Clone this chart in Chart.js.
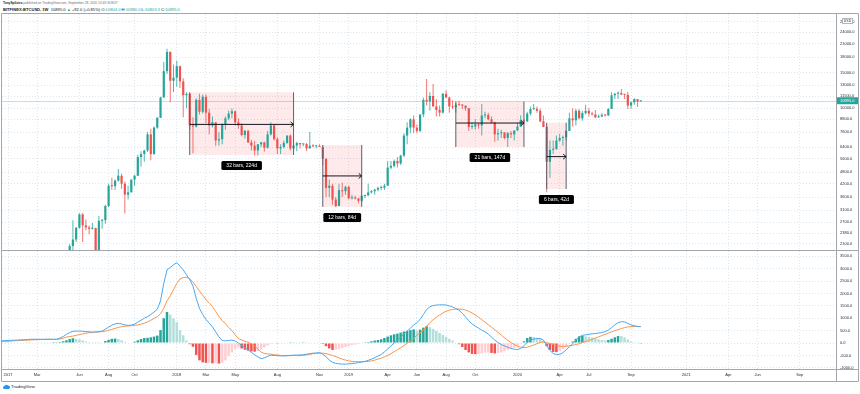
<!DOCTYPE html>
<html>
<head>
<meta charset="utf-8">
<script src="https://cdn.jsdelivr.net/npm/chart.js@4"></script>
<style>
  body { margin: 0; background: #fff; width: 860px; height: 394px; overflow: hidden; font-family: "Liberation Sans", Arial, sans-serif; }
  canvas { position: absolute; left: 0; }
  #main { top: 13px; }
  #macd { top: 251px; }
  .hdr { position: absolute; left: 3px; white-space: nowrap; line-height: 1; color: #131722; }
  #line1 { top: 1.5px; font-size: 3.2px; color: #6a6d78; }
  #line1 b { color: #131722; }
  #line2 { top: 7.5px; font-size: 4.1px; }
  .t { color: #26a69a; }
  #footer { position: absolute; left: 3px; top: 384px; font-size: 4.3px; color: #131722; white-space: nowrap; }
  #footer svg { vertical-align: middle; }
</style>
</head>
<body>
<div class="hdr" id="line1"><b>TonySpilotro</b> published on TradingView.com, September 28, 2020 13:43:34 EDT</div>
<div class="hdr" id="line2"><b>BITFINEX:BTCUSD, 1W</b>&nbsp; 10895.0 <span class="t">▲</span> +92.0 (+0.85%) O:<span class="t">10804.0</span> H:<span class="t">10980.0</span> L:<span class="t">10803.3</span> C:<span class="t">10895.0</span></div>
<canvas id="main" width="860" height="238"></canvas>
<canvas id="macd" width="860" height="132"></canvas>
<div id="footer"><svg width="7" height="5" viewBox="0 0 14 10"><path d="M3 10 A3 3 0 0 1 3 4 A4 4 0 0 1 10 3 A3.5 3.5 0 0 1 11 10 Z" fill="#2196f3"/></svg> TradingView</div>

<script>
// --- 1. Data (weekly bars, week 0 = first week of 2017) ---

const firstWeek = 19; // first candle: week of May 15, 2017

const openPrice = [
  // 2017
  1730, 2050, 2210, 2530, 2950, 2600, 2540, 2500, 2520, 1930, 2740, 2760, 3250, 4100, 4080, 4350, 4600,
  4200, 3700, 3800, 4400, 4600, 5700, 5900, 6150, 7400, 5900, 8000, 8950, 11300, 15300, 19100, 13700,
  // 2018
  14200, 16200, 13600, 11600, 11800, 8200, 8100, 11000, 9600, 11400, 9500, 8200, 8500, 6900, 7000, 8300,
  8900, 9400, 9650, 8500, 8200, 7350, 7700, 6750, 6500, 6150, 6600, 6750, 6350, 7400, 8200, 7000,
  6300, 6400, 6700, 7300, 6300, 6500, 6700, 6600, 6620, 6300, 6500, 6450, 6480, 6400, 5600, 4000,
  4100, 3500, 3250, 3900,
  // 2019
  3850, 4050, 3550, 3560, 3540, 3450, 3650, 3670, 3800, 3850, 3920, 4000, 4010, 4100, 5050, 5150,
  5450, 5300, 5800, 7300, 8000, 8800, 8000, 7700, 9300, 11000, 10800, 11500, 10200, 9800, 9500, 11800,
  11300, 10200, 10100, 10400, 10350, 10300, 10000, 8050, 8100, 8300, 8200, 9200, 9250, 8800, 8500, 7400,
  7500, 7550, 7100, 7500,
  // 2020
  7400, 7750, 8100, 8700, 8600, 9400, 9900, 9920, 9700, 8600, 8050, 5400, 6200, 6250, 6900, 7100,
  7150, 7700, 8900, 8700, 9700, 8900, 9450, 9700, 9400, 9300, 9000, 9100, 9250, 9200, 9900, 11600,
  11800, 11900, 11700, 11650, 10300, 10700, 11100, 10804
];
const highPrice = [
  2100, 2760, 2550, 2990, 3000, 2780, 2600, 2670, 2530, 2900, 2800, 3300, 4200, 4500, 4400, 4970, 4700,
  4300, 4100, 4400, 4650, 5850, 6100, 6200, 7600, 7900, 8100, 9000, 11400, 17000, 19800, 19200, 16500,
  17250, 16300, 14100, 12000, 11900, 9000, 11200, 11800, 11700, 11700, 9900, 9100, 8500, 7600, 8400, 9100,
  9750, 9950, 9700, 8900, 8400, 7800, 7800, 6950, 6850, 6600, 6800, 6800, 7700, 8500, 8250, 7150,
  6600, 6900, 7300, 7400, 6600, 6800, 6700, 6650, 6700, 7600, 6600, 6550, 6600, 6450, 5600, 4400,
  4200, 3600, 4200, 4250,
  4100, 4100, 3700, 3650, 3560, 3700, 3700, 4200, 3900, 3950, 4050, 4100, 4200, 5450, 5450, 5550,
  5700, 5850, 7500, 8500, 8900, 9200, 8300, 9300, 11300, 14000, 12000, 13200, 11100, 10300, 11900, 12300,
  11400, 10950, 10600, 10900, 10500, 10300, 10000, 8500, 8800, 8400, 10500, 9600, 9500, 9100, 8550, 7900,
  7800, 7600, 7600, 7700,
  7600, 8450, 9200, 8800, 9600, 10200, 10500, 10200, 9950, 9200, 8200, 6900, 6900, 7300, 7450, 7300,
  7750, 9500, 10000, 9900, 9900, 9700, 10400, 10000, 9600, 9800, 9300, 9450, 9300, 10000, 12000, 11900,
  12100, 12450, 11800, 12050, 10700, 11200, 11100, 10980
];
const lowPrice = [
  1700, 1850, 2150, 2500, 2150, 2460, 2350, 2480, 1850, 1840, 2500, 2650, 3200, 3900, 3900, 4300, 3950,
  2980, 3500, 3800, 4100, 4600, 5100, 5400, 6050, 5500, 5850, 7900, 8950, 11300, 14800, 10700, 12050,
  12800, 12600, 9000, 10000, 7800, 5950, 8000, 9300, 9400, 8400, 7400, 8000, 6500, 6500, 6600, 7800,
  8700, 8900, 8200, 7900, 7250, 7050, 6700, 6150, 5800, 5800, 6400, 6070, 6300, 7300, 6900, 5900,
  5900, 6300, 6650, 6150, 6200, 6100, 6300, 6450, 6100, 6300, 6400, 6300, 6400, 5200, 3600, 3600,
  3300, 3200, 3250, 3600,
  3700, 3500, 3500, 3500, 3350, 3400, 3550, 3650, 3750, 3700, 3850, 3900, 3900, 4100, 4950, 5050,
  5050, 5200, 5700, 6600, 7500, 7500, 7500, 7600, 9000, 10300, 9700, 10200, 9100, 9100, 9400, 11300,
  9500, 9900, 9500, 10300, 9900, 9700, 7700, 7850, 7800, 7900, 7300, 8900, 8700, 8400, 6800, 6900,
  7100, 7000, 6400, 7100,
  6900, 7700, 8050, 8300, 8500, 9200, 9800, 9500, 8500, 8100, 3800, 4500, 5900, 6200, 6800, 6500,
  6900, 7700, 8100, 8200, 8800, 8650, 9300, 9100, 9200, 8900, 8950, 9000, 9100, 9150, 9900, 11100,
  11100, 11600, 11100, 9900, 9900, 10400, 10150, 10803.3
];
const closePrice = [
  2050, 2210, 2530, 2950, 2600, 2540, 2500, 2520, 1930, 2740, 2760, 3250, 4100, 4080, 4350, 4600, 4200,
  3700, 3800, 4400, 4600, 5700, 5900, 6150, 7400, 5900, 8000, 8950, 11300, 15300, 19100, 13700, 14200,
  16200, 13600, 11600, 11800, 8200, 8100, 11000, 9600, 11400, 9500, 8200, 8500, 6900, 7000, 8300, 8900,
  9400, 9650, 8500, 8200, 7350, 7700, 6750, 6500, 6150, 6600, 6750, 6350, 7400, 8200, 7000, 6300,
  6400, 6700, 7300, 6300, 6500, 6700, 6600, 6620, 6300, 6500, 6450, 6480, 6400, 5600, 4000, 4100,
  3500, 3250, 3900, 3850,
  4050, 3550, 3560, 3540, 3450, 3650, 3670, 3800, 3850, 3920, 4000, 4010, 4100, 5050, 5150, 5450,
  5300, 5800, 7300, 8000, 8800, 8000, 7700, 9300, 11000, 10800, 11500, 10200, 9800, 9500, 11800, 11300,
  10200, 10100, 10400, 10350, 10300, 10000, 8050, 8100, 8300, 8200, 9200, 9250, 8800, 8500, 7400, 7500,
  7550, 7100, 7500, 7400,
  7750, 8100, 8700, 8600, 9400, 9900, 9920, 9700, 8600, 8050, 5400, 6200, 6250, 6900, 7100, 7150,
  7700, 8900, 8700, 9700, 8900, 9450, 9700, 9400, 9300, 9000, 9100, 9250, 9200, 9900, 11600, 11800,
  11900, 11700, 11650, 10300, 10700, 11100, 10800, 10895
];

// MACD (12, 26, 9) pane; first value is week -2
const macdStartWeek = -2;
const macdValues = [
  90, 95, 100, 110, 115, 120, 125, 130, 140, 150, 150, 150,
  150, 150, 150, 150, 150, 155, 200, 260, 350, 420,
  470, 480, 480, 470, 460, 450, 440, 445, 455, 480,
  560, 640, 720, 770, 790, 770, 730, 710, 720, 760,
  840, 920, 1000, 1060, 1150, 1250, 1360, 1700, 2400, 2950,
  3050, 3150, 3240, 3100, 2950, 2750, 2550, 2300, 1800, 1400,
  1150, 950, 800, 650, 450, 250, 100, 90, 100, 120,
  80, 0, -100, -200, -280, -380, -470, -560, -630, -600,
  -540, -490, -500, -510, -520, -520, -510, -500, -490, -485,
  -485, -470, -450, -430, -410, -400, -390, -450, -560, -680,
  -780, -820, -840, -850, -850, -840, -830, -810, -790, -770,
  -740, -700, -650, -590, -530, -460, -360, -240, -120, 0,
  110, 230, 360, 480, 600, 720, 820, 950, 1150, 1350,
  1460, 1510, 1530, 1540, 1540, 1530, 1500, 1450, 1390, 1320,
  1200, 1050, 900, 770, 680, 600, 520, 450, 360, 240,
  120, 20, -60, -120, -170, -220, -250, -260, -220, -110,
  30, 120, 160, 180, 180, 120, -110, -300, -420, -470,
  -460, -390, -280, -150, -30, 110, 240, 310, 330, 350,
  370, 385, 400, 420, 460, 520, 620, 730, 820, 860,
  850, 790, 730, 700, 670, 660
];
const signalValues = [
  60, 65, 70, 80, 90, 95, 105, 110, 115, 125, 130, 135,
  140, 145, 150, 150, 145, 145, 160, 190, 240, 260,
  280, 310, 340, 370, 395, 415, 430, 440, 450, 460,
  480, 510, 550, 590, 630, 660, 680, 690, 700, 710,
  730, 760, 800, 850, 920, 990, 1060, 1180, 1400, 1700,
  1900, 2150, 2400, 2580, 2640, 2650, 2600, 2450, 2280, 2100,
  1930, 1750, 1600, 1470, 1270, 1080, 900, 790, 620, 500,
  330, 180, 120, 70, 30, -40, -120, -240, -370, -420,
  -440, -450, -480, -480, -500, -510, -510, -510, -505, -505,
  -510, -500, -480, -455, -430, -420, -405, -410, -430, -460,
  -500, -550, -600, -650, -690, -720, -740, -750, -750, -750,
  -750, -740, -720, -690, -650, -610, -560, -500, -430, -350,
  -270, -190, -100, -10, 80, 170, 320, 410, 530, 670,
  820, 940, 1040, 1130, 1210, 1280, 1330, 1350, 1370, 1370,
  1360, 1330, 1280, 1210, 1130, 1040, 940, 840, 740, 640,
  540, 430, 320, 210, 110, 20, -60, -130, -170, -180,
  -170, -130, -80, -30, 20, 40, 20, -20, -60, -100,
  -130, -140, -130, -110, -90, -60, -30, 20, 60, 100,
  150, 200, 250, 300, 350, 400, 450, 500, 540, 580,
  620, 650, 660, 665, 665, 668
];
const histValues = [
  30, 30, 30, 30, 25, 25, 20, 20, 25, 25, 20, 15,
  10, 5, 0, 0, 5, 10, 40, 70, 110, 160,
  190, 170, 140, 100, 65, 35, 10, 5, 5, 20,
  80, 130, 170, 180, 160, 110, 50, 20, 20, 50,
  110, 160, 200, 210, 230, 260, 300, 520, 1000, 1250,
  1150, 1000, 840, 520, 310, 100, -50, -150, -480, -700,
  -780, -800, -800, -820, -820, -830, -800, -700, -520, -380,
  -250, -180, -220, -270, -310, -340, -350, -320, -260, -180,
  -100, -40, -20, -30, -20, -10, 0, 10, 15, 20,
  25, 30, 30, 25, 20, 20, 15, -40, -130, -220,
  -280, -270, -240, -200, -160, -120, -90, -60, -40, -20,
  10, 40, 70, 100, 120, 150, 200, 260, 310, 350,
  380, 420, 460, 490, 520, 550, 500, 540, 620, 680,
  640, 570, 490, 410, 330, 250, 170, 100, 20, -50,
  -160, -280, -380, -440, -450, -440, -420, -390, -380, -400,
  -420, -410, -380, -330, -280, -240, -190, -130, -50, 70,
  200, 250, 240, 210, 160, 80, -130, -280, -360, -370,
  -330, -250, -150, -40, 60, 170, 270, 290, 270, 250,
  220, 185, 150, 120, 110, 120, 170, 230, 280, 280,
  230, 140, 70, 35, 5, -8
];

// axis ticks
const priceTicks = [2100, 2380, 2700, 3100, 3600, 4200, 4800, 5600, 6400, 7600, 8800, 10000, 11500, 13000, 15000, 18000, 21000, 24000, 27000];
const macdTicks = [-1000, -500, 0, 500, 1000, 1500, 2000, 2500, 3000, 3500];
const tickWeeks = [0, 9, 22, 31, 39, 52, 61, 70, 83, 96, 105, 117, 126, 135, 144, 157, 170, 179, 192, 209, 222, 231, 244];
const tickLabels = ['2017', 'Mar', 'Jun', 'Aug', 'Oct', '2018', 'Mar', 'May', 'Aug', 'Nov', '2019', 'Apr', 'Jun', 'Aug', 'Oct', '2020', 'Apr', 'Jul', 'Sep', '2021', 'Apr', 'Jun', 'Sep'];

// date range drawings (week index, prices)
const rangeStart = [56, 97, 138, 166];
const rangeEnd = [88, 109, 159, 172];
const rangeHigh = [12000, 6550, 10800, 8460];
const rangeLow = [5840, 3215, 6400, 3950];
const rangeArrow = [8300, 4590, 8430, 5730];
const rangeLabel = ['32 bars, 224d', '12 bars, 84d', '21 bars, 147d', '6 bars, 42d'];

// --- 2. Styles ---
const up = '#26a69a';
const down = '#ef5350';
const frameColor = '#a3a6ae';
const textColor = '#2a2e39';
const fontFamily = '"Liberation Sans", Arial, sans-serif';
const xMin = -1.85;
const xMax = 255.16;

Chart.defaults.font.family = fontFamily;
Chart.defaults.animation = false;

const candleWeeks = openPrice.map((_, i) => firstWeek + i);
const macdWeeks = macdValues.map((_, i) => macdStartWeek + i);
const candleColors = closePrice.map((c, i) => c >= openPrice[i] ? up : down);
const wickColors = closePrice.map((c, i) => c >= openPrice[i] ? 'rgba(38,166,154,0.8)' : 'rgba(239,83,80,0.8)');
const histColors = histValues.map((v, i) => {
  const prev = i > 0 ? histValues[i - 1] : v;
  if (v >= 0) return v > prev ? '#26a69a' : '#b2dfdb';
  return v < prev ? '#ef5350' : '#ffcdd2';
});

const grid = { color: '#dbe6ee', lineWidth: 1, drawTicks: false, offset: false };
const gridBorder = { display: false, dash: [1, 2] };

function fixY(s) { s.width = 24; s.paddingTop = 0; s.paddingBottom = 0; }
function setWeekTicks(s) { s.ticks = tickWeeks.map(v => ({ value: v })); }

// --- 3. Plugins: frame, ranges, price label ---
function line(ctx, x0, y0, x1, y1) { ctx.moveTo(x0, y0); ctx.lineTo(x1, y1); }

const mainDecor = {
  id: 'mainDecor',
  beforeDatasetsDraw(chart) {
    const { ctx, chartArea: a, scales: { x, y } } = chart;
    ctx.save();
    ctx.beginPath(); ctx.rect(a.left, a.top, a.right - a.left, a.bottom - a.top); ctx.clip();
    // last price line
    const py = Math.round(y.getPixelForValue(closePrice[closePrice.length - 1])) + 0.5;
    ctx.strokeStyle = 'rgba(38,166,154,0.3)'; ctx.lineWidth = 1;
    ctx.beginPath(); line(ctx, a.left, py, a.right, py); ctx.stroke();
    // range fills
    ctx.fillStyle = 'rgba(242,54,69,0.11)';
    rangeStart.forEach((s, i) => {
      const x0 = x.getPixelForValue(s), x1 = x.getPixelForValue(rangeEnd[i]);
      const y0 = y.getPixelForValue(rangeHigh[i]), y1 = y.getPixelForValue(rangeLow[i]);
      ctx.fillRect(x0, y0, x1 - x0, y1 - y0);
    });
    ctx.restore();
  },
  afterDatasetsDraw(chart) {
    const { ctx, scales: { x, y } } = chart;
    ctx.save();
    rangeStart.forEach((s, i) => {
      const x0 = x.getPixelForValue(s), x1 = x.getPixelForValue(rangeEnd[i]);
      const y0 = y.getPixelForValue(rangeHigh[i]), y1 = y.getPixelForValue(rangeLow[i]);
      const ya = y.getPixelForValue(rangeArrow[i]);
      ctx.strokeStyle = '#5d606b'; ctx.lineWidth = 1;
      ctx.beginPath(); line(ctx, x0, y0, x0, y1); line(ctx, x1, y0, x1, y1); ctx.stroke();
      ctx.strokeStyle = '#131722';
      ctx.beginPath(); line(ctx, x0, ya, x1, ya);
      line(ctx, x1 - 3, ya - 2.5, x1, ya); line(ctx, x1, ya, x1 - 3, ya + 2.5); ctx.stroke();
      // label box
      ctx.font = '5px ' + fontFamily;
      const tw = ctx.measureText(rangeLabel[i]).width;
      const bw = tw + 10, bh = 9, cx = (x0 + x1) / 2, top = y1 + 6;
      ctx.fillStyle = '#000';
      ctx.beginPath(); ctx.roundRect(cx - bw / 2, top, bw, bh, 1.5); ctx.fill();
      ctx.fillStyle = '#fff'; ctx.textAlign = 'center'; ctx.textBaseline = 'middle';
      ctx.fillText(rangeLabel[i], cx, top + bh / 2 + 0.3);
    });
    ctx.restore();
  },
  afterDraw(chart) {
    const { ctx, chartArea: a, width, height, scales: { y } } = chart;
    ctx.save();
    ctx.strokeStyle = frameColor; ctx.lineWidth = 1;
    ctx.beginPath();
    line(ctx, 1.5, a.top - 0.5, 1.5, height);
    line(ctx, 1.5, a.top - 0.5, width - 1.5, a.top - 0.5);
    line(ctx, a.right + 0.5, a.top - 0.5, a.right + 0.5, height);
    line(ctx, width - 1.5, a.top - 0.5, width - 1.5, height);
    line(ctx, 1.5, height - 0.5, width - 1.5, height - 0.5);
    ctx.stroke();
    // currency box
    ctx.fillStyle = '#fff'; ctx.strokeStyle = '#b2b5be';
    ctx.fillRect(a.right + 6.5, a.top + 4.5, 10, 5);
    ctx.strokeRect(a.right + 6.5, a.top + 4.5, 10, 5);
    ctx.fillStyle = textColor; ctx.font = '3.5px ' + fontFamily;
    ctx.textAlign = 'center'; ctx.textBaseline = 'middle';
    ctx.fillText('USD', a.right + 11.5, a.top + 7.2);
    // last price label
    const last = closePrice[closePrice.length - 1];
    const py = y.getPixelForValue(last);
    ctx.fillStyle = up;
    ctx.fillRect(a.right + 1, py - 3.5, 21, 7);
    ctx.fillStyle = '#fff'; ctx.font = '4px ' + fontFamily; ctx.textAlign = 'left';
    ctx.fillText(last.toFixed(1), a.right + 4, py + 0.3);
    ctx.restore();
  }
};

const macdDecor = {
  id: 'macdDecor',
  afterDraw(chart) {
    const { ctx, chartArea: a, width } = chart;
    const axisBottom = a.bottom + 12;
    ctx.save();
    ctx.strokeStyle = frameColor; ctx.lineWidth = 1;
    ctx.beginPath();
    line(ctx, 1.5, 0, 1.5, axisBottom + 0.5);
    line(ctx, a.right + 0.5, 0, a.right + 0.5, axisBottom + 0.5);
    line(ctx, width - 1.5, 0, width - 1.5, axisBottom + 0.5);
    line(ctx, 1.5, a.bottom + 0.5, width - 1.5, a.bottom + 0.5);
    line(ctx, 1.5, axisBottom + 0.5, width - 1.5, axisBottom + 0.5);
    ctx.stroke();
    ctx.restore();
  }
};

// --- 4. Price pane (candles) ---
new Chart(document.getElementById('main'), {
  type: 'bar',
  data: {
    datasets: [
      {
        label: 'Wick',
        data: candleWeeks.map((w, i) => ({ x: w, y: [lowPrice[i], highPrice[i]] })),
        backgroundColor: wickColors,
        barThickness: 1,
        inflateAmount: 0,
        grouped: false,
        order: 2
      },
      {
        label: 'Body',
        data: candleWeeks.map((w, i) => ({ x: w, y: [openPrice[i], closePrice[i]] })),
        backgroundColor: candleColors,
        barThickness: 2.2,
        minBarLength: 1,
        inflateAmount: 0,
        grouped: false,
        order: 1
      }
    ]
  },
  options: {
    responsive: false,
    animation: false,
    events: [],
    layout: { padding: { left: 2, top: 1, right: 0, bottom: 0 } },
    plugins: { legend: { display: false }, tooltip: { enabled: false } },
    scales: {
      x: {
        type: 'linear', min: xMin, max: xMax, offset: false, bounds: 'data',
        grid: grid, border: gridBorder,
        ticks: { display: false },
        afterBuildTicks: setWeekTicks,
        afterFit: s => { s.height = 0; s.paddingLeft = 0; s.paddingRight = 0; }
      },
      y: {
        type: 'logarithmic', position: 'right', min: 1937, max: 29518, bounds: 'data',
        grid: grid, border: gridBorder,
        ticks: { autoSkip: false, color: textColor, font: { size: 4 }, padding: 4, callback: v => Number(v).toFixed(1) },
        afterBuildTicks: s => { s.ticks = priceTicks.map(v => ({ value: v })); },
        afterFit: fixY
      }
    }
  },
  plugins: [mainDecor]
});

// --- 5. MACD pane ---
new Chart(document.getElementById('macd'), {
  type: 'bar',
  data: {
    datasets: [
      {
        type: 'line', label: 'MACD',
        data: macdWeeks.map((w, i) => ({ x: w, y: macdValues[i] })),
        borderColor: '#49a7f2', borderWidth: 1, pointRadius: 0, tension: 0, order: 1
      },
      {
        type: 'line', label: 'Signal',
        data: macdWeeks.map((w, i) => ({ x: w, y: signalValues[i] })),
        borderColor: '#f7944e', borderWidth: 1, pointRadius: 0, tension: 0, order: 2
      },
      {
        label: 'Histogram',
        data: macdWeeks.map((w, i) => ({ x: w, y: histValues[i] })),
        backgroundColor: histColors,
        barThickness: 2.5, inflateAmount: 0, grouped: false, order: 3
      }
    ]
  },
  options: {
    responsive: false,
    animation: false,
    events: [],
    layout: { padding: { left: 2, top: 0, right: 0, bottom: 2 } },
    plugins: { legend: { display: false }, tooltip: { enabled: false } },
    scales: {
      x: {
        type: 'linear', min: xMin, max: xMax, offset: false, bounds: 'data',
        grid: grid, border: gridBorder,
        ticks: {
          autoSkip: false, maxRotation: 0, minRotation: 0, color: textColor,
          font: { size: 4 }, padding: 3.5,
          callback: (v, i) => tickLabels[i]
        },
        afterBuildTicks: setWeekTicks,
        afterFit: s => { s.height = 12; s.paddingLeft = 0; s.paddingRight = 0; }
      },
      y: {
        type: 'linear', position: 'right', min: -1048, max: 3710, bounds: 'data',
        grid: grid, border: gridBorder,
        ticks: { autoSkip: false, color: textColor, font: { size: 4 }, padding: 4, callback: v => Number(v).toFixed(1) },
        afterBuildTicks: s => { s.ticks = macdTicks.map(v => ({ value: v })); },
        afterFit: fixY
      }
    }
  },
  plugins: [macdDecor]
});
</script>
</body>
</html>
